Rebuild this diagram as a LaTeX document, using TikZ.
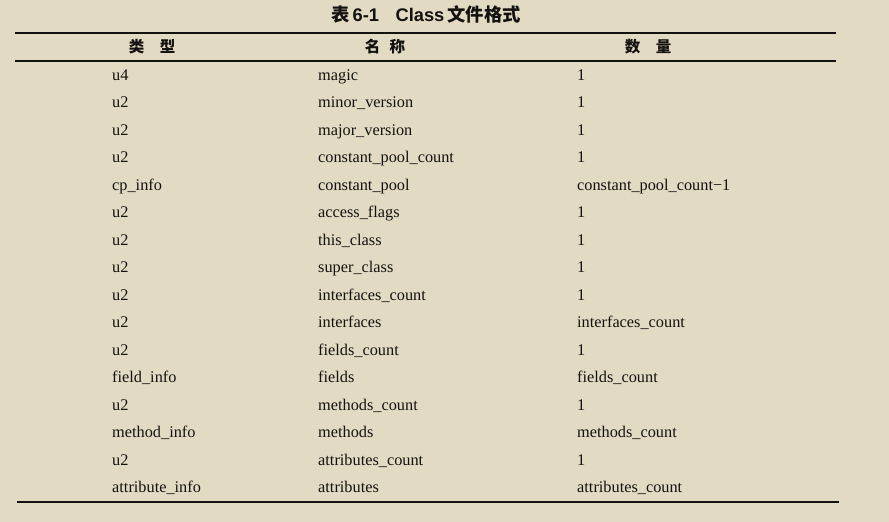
\documentclass[tikz,border=0pt]{standalone}
\usepackage{fontspec}
\setmainfont{Liberation Serif}
\setsansfont{Liberation Sans}
\newfontfamily\cjk{Noto Sans CJK SC}
\usepackage{xcolor}
\definecolor{paper}{RGB}{227,218,195}
\definecolor{ink}{RGB}{20,18,16}

\begin{document}
\begin{tikzpicture}[x=1pt,y=-1pt,
  cell/.style={anchor=base west,inner sep=0pt,text=ink,font=\fontsize{16.3}{18}\selectfont},
  head/.style={inner sep=0pt,text=ink,font=\fontsize{15.5}{17}\selectfont\cjk\bfseries},
  thickrule/.style={draw=ink,line width=1.8pt},
  thinrule/.style={draw=ink,line width=1.2pt}]
\fill [paper] (0,0) rectangle (889,522);
\useasboundingbox (0,0) rectangle (889,522);
\node [inner sep=0pt,text=ink,font=\fontsize{18.3}{20}\selectfont\sffamily\bfseries] (title) at (426,14)
  {{\cjk 表}\,6-1\hspace{0.9em}Class\,{\cjk 文件格式}};
\draw [thickrule] (15,33) -- (836,33);
\node [head] (h1) at (152,47) {类\hspace{1em}型};
\node [head] (h2) at (385,47) {名\hspace{0.6em}称};
\node [head] (h3) at (648,47) {数\hspace{1em}量};
\draw [thinrule] (15,61) -- (836,61);
\foreach \t/\n/\q [count=\i] in {
  u4/magic/1,
  u2/minor\_version/1,
  u2/major\_version/1,
  u2/constant\_pool\_count/1,
  cp\_info/constant\_pool/constant\_pool\_count−1,
  u2/access\_flags/1,
  u2/this\_class/1,
  u2/super\_class/1,
  u2/interfaces\_count/1,
  u2/interfaces/interfaces\_count,
  u2/fields\_count/1,
  field\_info/fields/fields\_count,
  u2/methods\_count/1,
  method\_info/methods/methods\_count,
  u2/attributes\_count/1,
  attribute\_info/attributes/attributes\_count}
{
  \node [cell] (t\i) at (112,{80+27.53*(\i-1)}) {\t};
  \node [cell] (n\i) at (318,{80+27.53*(\i-1)}) {\n};
  \node [cell] (q\i) at (577,{80+27.53*(\i-1)}) {\q};
}
\draw [thickrule] (17,502) -- (839,502);
\end{tikzpicture}
\end{document}
